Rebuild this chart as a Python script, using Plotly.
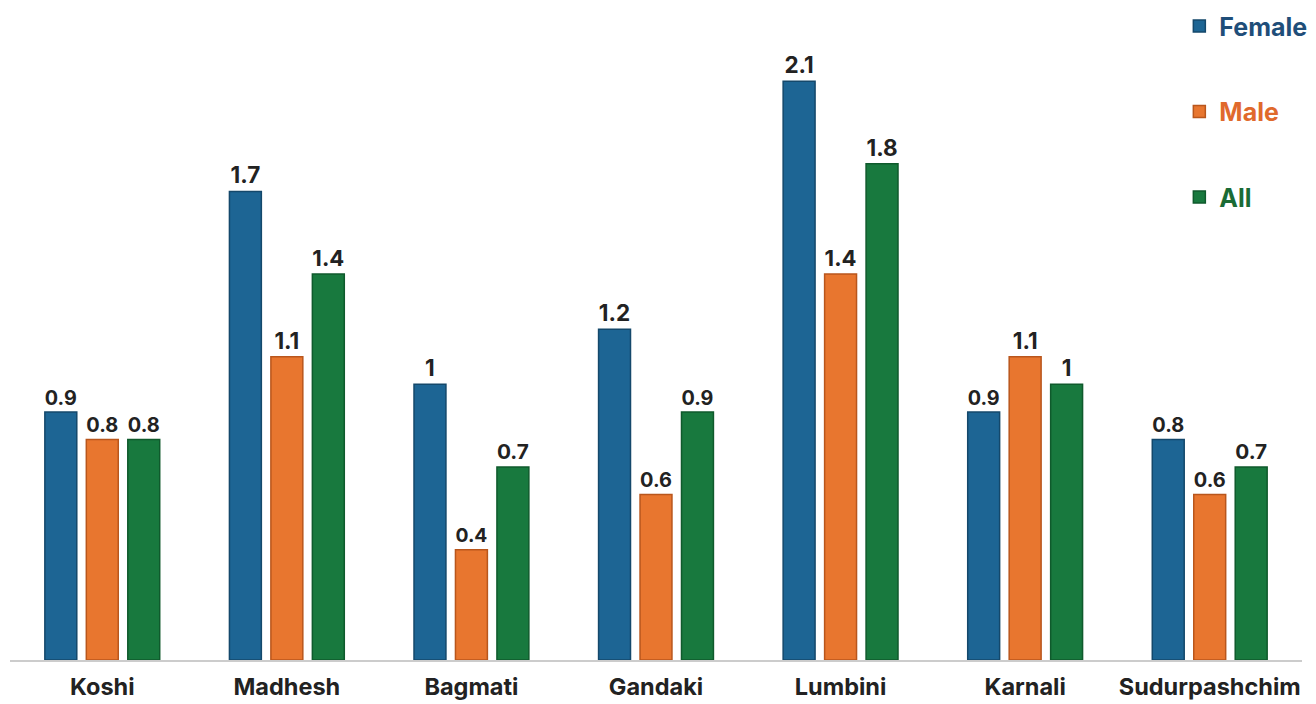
import plotly.graph_objects as go

regions = ["Koshi", "Madhesh", "Bagmati", "Gandaki", "Lumbini", "Karnali", "Sudurpashchim"]
female = [0.9, 1.7, 1.0, 1.2, 2.1, 0.9, 0.8]
male = [0.8, 1.1, 0.4, 0.6, 1.4, 1.1, 0.6]
all_ = [0.8, 1.4, 0.7, 0.9, 1.8, 1.0, 0.7]

series = [
    ("Female", female, "#1d6594", "#14486b", "#1f4e79"),
    ("Male", male, "#e8762f", "#b9561c", "#e0692c"),
    ("All", all_, "#18793e", "#0f5a2c", "#1a6b35"),
]

FONT = "Inter"

fig = go.Figure()
for i, (name, vals, col, edge, tcol) in enumerate(series):
    fig.add_trace(go.Bar(
        x=regions, y=vals,
        name=f"<span style='color:{tcol}'><b>{name}</b></span>",
        legendgroup=name,
        marker=dict(color=col, line=dict(color=edge, width=1.5)),
        text=[f"<b>{v:g}</b>" for v in vals],
        textposition="outside",
        textfont=dict(family=FONT, size=22.5, color="#222222"),
        cliponaxis=False,
    ))

fig.update_layout(
    width=1316, height=704,
    margin=dict(l=10, r=14, t=26, b=44, autoexpand=False),
    paper_bgcolor="white", plot_bgcolor="white",
    barmode="group", bargap=0.326, bargroupgap=0.23,
    font=dict(family=FONT, color="#222222"),
    showlegend=True,
    legend=dict(
        x=1.008, y=1.036, xanchor="right", yanchor="top",
        font=dict(family=FONT, size=25),
        tracegroupgap=50, itemwidth=30,
        bgcolor="rgba(0,0,0,0)",
    ),
    xaxis=dict(
        showline=True, linecolor="#cccccc", linewidth=1.5,
        ticks="", tickfont=dict(family=FONT, size=23.5, color="#222222"),
        ticklabelstandoff=5, automargin=False,
    ),
    yaxis=dict(range=[0, 2.3], visible=False, showgrid=False, automargin=False),
)
fig.update_xaxes(tickprefix="<b>", ticksuffix="</b>")

fig.write_html("out.html")
